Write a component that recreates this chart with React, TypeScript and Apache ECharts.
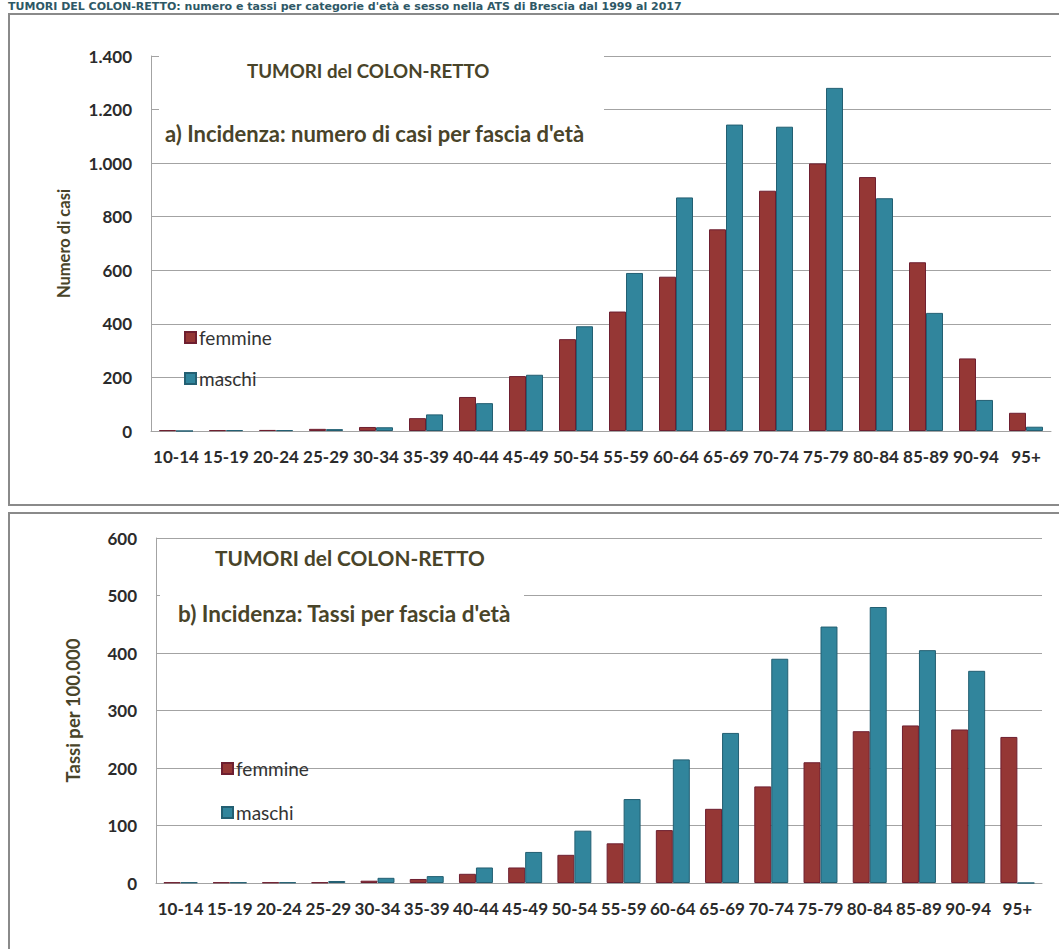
import React, { useEffect, useRef } from 'react';
import * as echarts from 'echarts';

const categories = ['10-14', '15-19', '20-24', '25-29', '30-34', '35-39', '40-44', '45-49', '50-54', '55-59', '60-64', '65-69', '70-74', '75-79', '80-84', '85-89', '90-94', '95+'];
const casiFemmine = [3, 3, 4, 8, 15, 48, 127, 205, 343, 446, 576, 753, 897, 999, 948, 630, 271, 68];
const casiMaschi = [0, 3, 3, 7, 14, 62, 104, 210, 391, 590, 872, 1144, 1136, 1281, 869, 441, 116, 16];
const tassiFemmine = [1, 1, 1, 1, 4, 7, 16, 27, 49, 69, 92, 129, 168, 210, 264, 274, 267, 254];
const tassiMaschi = [1, 1, 1, 3.5, 9, 12, 27, 54, 91, 146, 215, 261, 390, 446, 480, 405, 369, 0];

const pageTitle = "TUMORI DEL COLON-RETTO: numero e tassi per categorie d'età e sesso nella ATS di Brescia dal 1999 al 2017";
const chartTitle = 'TUMORI del COLON-RETTO';
const subtitleA = "a) Incidenza: numero di casi per fascia d'età";
const subtitleB = "b) Incidenza: Tassi per fascia d'età";

const FONT = 'Lato';
const TITLE_COLOR = '#494429';
const GRID_COLOR = '#a3a3a3';
const F_COLOR = '#953735';
const F_BORDER = '#6e1f30';
const M_COLOR = '#31859c';
const M_BORDER = '#235f72';

function fmtThousands(v: number): string {
  if (v >= 1000) {
    const t = Math.floor(v / 1000);
    const r = String(v % 1000).padStart(3, '0');
    return t + '.' + r;
  }
  return String(v);
}

function makeX(gridIndex: number) {
  return {
    type: 'category',
    gridIndex,
    data: categories,
    axisTick: { show: false },
    axisLine: { show: true, lineStyle: { color: GRID_COLOR, width: 1 } },
    axisLabel: { interval: 0, margin: 17, fontFamily: FONT, fontWeight: 'bold', fontSize: 17, color: '#2b2b2b' },
  };
}

function makeY(gridIndex: number, max: number, interval: number, name: string, nameGap: number, nameSize: number) {
  return {
    type: 'value',
    gridIndex,
    min: 0,
    max,
    interval,
    name,
    nameLocation: 'middle',
    nameGap,
    nameTextStyle: { fontFamily: FONT, fontWeight: 'bold', fontSize: nameSize, color: TITLE_COLOR },
    axisLine: { show: true, lineStyle: { color: GRID_COLOR, width: 1 } },
    axisTick: { show: false },
    splitLine: { show: true, lineStyle: { color: GRID_COLOR, width: 1 } },
    axisLabel: { margin: 19, fontFamily: FONT, fontWeight: 'bold', fontSize: 17, color: '#2b2b2b', formatter: (v: number) => fmtThousands(v) },
  };
}

function bar(name: string, data: number[], idx: number, color: string, border: string, gapCat: string) {
  return {
    name,
    type: 'bar',
    xAxisIndex: idx,
    yAxisIndex: idx,
    data,
    barGap: '0%',
    barCategoryGap: gapCat,
    itemStyle: { color, borderColor: border, borderWidth: 1 },
  };
}

function legendAt(left: number, top: number, gap: number) {
  return {
    orient: 'vertical',
    left,
    top,
    padding: 0,
    itemGap: gap,
    itemWidth: 11,
    itemHeight: 11,
    icon: 'rect',
    selectedMode: false,
    textStyle: { fontFamily: FONT, fontSize: 19, color: '#333333', padding: [0, 0, 0, -2] },
    data: ['femmine', 'maschi'],
  };
}

function textEl(x: number, y: number, text: string, font: string, fill: string) {
  return {
    type: 'text',
    x,
    y,
    z: 110,
    style: { text, font, fill, textAlign: 'left', textVerticalAlign: 'middle' },
  };
}

export default function App() {
  const ref = useRef<HTMLDivElement>(null);
  useEffect(() => {
    if (!ref.current) return;
    const chart = echarts.init(ref.current, null, { renderer: 'svg' });
    const option = {
      animation: false,
      backgroundColor: '#ffffff',
      grid: [
        { left: 151, top: 56, width: 900, height: 375 },
        { left: 156, top: 538, width: 886, height: 345 },
      ],
      xAxis: [makeX(0), makeX(1)],
      yAxis: [
        makeY(0, 1400, 200, 'Numero di casi', 79, 16.5),
        makeY(1, 600, 100, 'Tassi per 100.000', 74, 18.5),
      ],
      legend: [legendAt(184, 328, 22), legendAt(221, 759, 25)],
      series: [
        bar('femmine', casiFemmine, 0, F_COLOR, F_BORDER, '32%'),
        bar('maschi', casiMaschi, 0, M_COLOR, M_BORDER, '32%'),
        bar('femmine', tassiFemmine, 1, F_COLOR, F_BORDER, '31%'),
        bar('maschi', tassiMaschi, 1, M_COLOR, M_BORDER, '31%'),
      ],
      graphic: [
        { type: 'rect', z: 120, shape: { x: 9, y: 14, width: 1100, height: 491 }, style: { fill: 'none', stroke: '#8a8a8a', lineWidth: 2 } },
        { type: 'rect', z: 120, shape: { x: 9, y: 513, width: 1100, height: 500 }, style: { fill: 'none', stroke: '#8a8a8a', lineWidth: 2 } },
        { type: 'rect', z: 100, shape: { x: 159, y: 42, width: 445, height: 108 }, style: { fill: '#ffffff' } },
        { type: 'rect', z: 100, shape: { x: 160, y: 583, width: 364, height: 60 }, style: { fill: '#ffffff' } },
        textEl(247, 71, chartTitle, 'bold 18.7px Lato', TITLE_COLOR),
        textEl(165, 133, subtitleA, 'bold 22px Lato', TITLE_COLOR),
        textEl(215, 557, chartTitle, 'bold 20.8px Lato', TITLE_COLOR),
        textEl(178, 613, subtitleB, 'bold 22.5px Lato', TITLE_COLOR),
        textEl(8, 6, pageTitle, 'bold 11px "DejaVu Sans"', '#2e5866'),
      ],
    };
    chart.setOption(option as any);
    return () => chart.dispose();
  }, []);
  return <div ref={ref} style={{ position: 'absolute', left: 0, top: 0, width: 1059, height: 949, background: '#ffffff' }} />;
}
